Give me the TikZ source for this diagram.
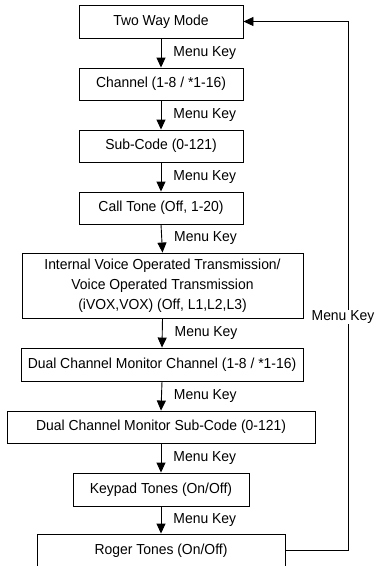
\documentclass[tikz,border=0pt]{standalone}
\usepackage{fontspec}
\setmainfont{Liberation Sans}[FakeStretch=0.96]
\usetikzlibrary{arrows.meta}
\begin{document}
\begin{tikzpicture}[x=1pt,y=-1pt,
  stepbox/.style={draw,line width=0.9pt,inner sep=0pt,align=center,font=\fontsize{14.5}{20}\selectfont},
  flow/.style={line width=0.9pt,-{Triangle[length=10pt,width=9pt]}},
  lbl/.style={anchor=west,font=\fontsize{14.5}{16}\selectfont,inner sep=1pt}]
\useasboundingbox (0,0) rectangle (381,566);
\node[stepbox,minimum width=164pt,minimum height=33pt] (a) at (161,21.5) {Two Way Mode};
\node[stepbox,minimum width=164pt,minimum height=32pt] (b) at (161,84) {Channel (1-8 / *1-16)};
\node[stepbox,minimum width=164pt,minimum height=32pt] (c) at (161,146) {Sub-Code (0-121)};
\node[stepbox,minimum width=164pt,minimum height=32pt] (d) at (161,208) {Call Tone (Off, 1-20)};
\node[stepbox,minimum width=281pt,minimum height=65pt] (e) at (162.5,285.5) {Internal Voice Operated Transmission/\\Voice Operated Transmission\\(iVOX,VOX) (Off, L1,L2,L3)};
\node[stepbox,minimum width=282pt,minimum height=33pt] (f) at (162,364.5) {Dual Channel Monitor Channel (1-8 / *1-16)};
\node[stepbox,minimum width=308pt,minimum height=32pt] (g) at (161,427) {Dual Channel Monitor Sub-Code (0-121)};
\node[stepbox,minimum width=176pt,minimum height=33pt] (h) at (161,489.5) {Keypad Tones (On/Off)};
\node[stepbox,minimum width=248pt,minimum height=33pt] (i) at (161,550.5) {Roger Tones (On/Off)};
\foreach \p/\q in {a/b,b/c,c/d,d/e,e/f,f/g,g/h,h/i}{
  \draw[flow] (\p.south) -- (\q.north) node[lbl,midway,xshift=11pt] {Menu Key};
}
\coordinate (r1) at (348,550.5);
\coordinate (r2) at (348,21.5);
\draw[flow] (i.east) -- (r1) -- (r2) -- (a.east);
\node[fill=white,inner sep=1pt,font=\fontsize{14.5}{16}\selectfont] (mk) at (343,317) {Menu Key};
\end{tikzpicture}
\end{document}
